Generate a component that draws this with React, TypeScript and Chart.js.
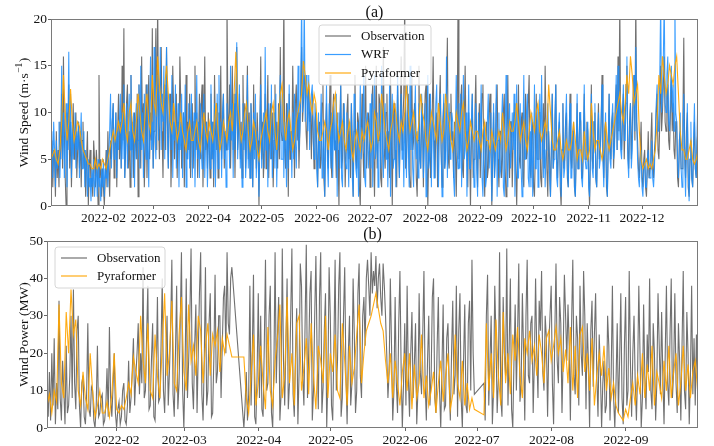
import React, { useEffect, useRef } from "react";
import { Chart, registerables } from "chart.js";

Chart.register(...registerables);

const FONT = "'Liberation Serif', 'Times New Roman', serif";

// ---------- (a) Wind speed (x = day of year 2022) ----------
const TOP_START = 2.5;
const TOP_MONTH_DAYS = [32, 60, 91, 121, 152, 182, 213, 244, 274, 305, 335];
const TOP_TICK_LABELS = ["2022-02", "2022-03", "2022-04", "2022-05", "2022-06", "2022-07", "2022-08", "2022-09", "2022-10", "2022-11", "2022-12"];

// two samples per day
const speedObservation = [
  4, 7, 2, 6, 5, 1, 8, 3, 6, 2, 9, 5, 12, 4, 16, 8, 3, 0, 10, 6,
  13, 4, 9, 2, 7, 11, 5, 8, 10, 3, 6, 9, 4, 8, 2, 7, 9, 4, 6, 1,
  5, 8, 0, 4, 6, 2, 3, 1, 7, 5, 2, 6, 4, 0, 14, 3, 5, 1, 4, 2,
  0, 3, 6, 2, 8, 4, 1, 7, 5, 9, 11, 3, 6, 10, 2, 8, 12, 5, 9, 4,
  15, 7, 19, 3, 6, 11, 13, 4, 8, 2, 14, 6, 9, 3, 10, 7, 5, 12, 1, 13,
  8, 4, 16, 7, 11, 2, 6, 13, 3, 9, 14, 5, 10, 7, 19, 4, 8, 12, 19, 6,
  22, 9, 5, 12, 17, 8, 3, 11, 13, 6, 17, 9, 4, 10, 12, 2, 7, 15, 10, 5,
  8, 12, 3, 9, 6, 16, 11, 4, 7, 10, 2, 8, 14, 5, 9, 6, 12, 3, 8, 11,
  4, 9, 15, 6, 10, 3, 7, 12, 5, 11, 13, 2, 8, 16, 6, 9, 4, 10, 7, 3,
  12, 5, 9, 2, 14, 8, 6, 11, 3, 10, 7, 15, 5, 9, 12, 4, 8, 6, 22, 10,
  7, 13, 4, 9, 15, 6, 11, 3, 10, 17, 6, 8, 12, 5, 9, 3, 14, 7, 11, 4,
  9, 15, 5, 10, 3, 11, 8, 2, 13, 6, 9, 4, 10, 7, 0, 8, 16, 5, 9, 3,
  6, 12, 4, 9, 14, 3, 8, 11, 5, 10, 2, 7, 13, 6, 9, 4, 11, 5, 17, 8,
  7, 10, 22, 6, 4, 11, 9, 1, 12, 5, 8, 6, 15, 9, 3, 11, 13, 7, 10, 4,
  8, 12, 17, 9, 11, 14, 13, 8, 6, 12, 13, 9, 10, 5, 12, 8, 4, 9, 10, 6,
  2, 7, 9, 4, 5, 11, 13, 3, 1, 8, 11, 6, 4, 9, 14, 5, 3, 10, 12, 6,
  7, 3, 10, 6, 0, 9, 13, 4, 5, 11, 9, 2, 6, 10, 12, 5, 8, 3, 11, 7,
  1, 8, 14, 5, 4, 10, 9, 2, 0, 7, 12, 6, 3, 9, 15, 4, 7, 10, 9, 2,
  5, 11, 13, 6, 1, 8, 15, 4, 7, 12, 11, 3, 2, 9, 17, 6, 4, 10, 12, 5,
  8, 3, 14, 7, 0, 10, 11, 5, 6, 2, 13, 8, 3, 9, 16, 6, 9, 12, 22, 4,
  5, 10, 12, 4, 2, 8, 14, 6, 7, 11, 10, 3, 1, 7, 15, 5, 4, 9, 11, 2,
  8, 12, 13, 5, 0, 6, 12, 3, 5, 10, 16, 7, 3, 8, 10, 2, 7, 11, 14, 6,
  2, 9, 11, 4, 6, 12, 18, 5, 4, 10, 12, 7, 8, 3, 9, 6, 1, 8, 22, 5,
  6, 11, 13, 4, 3, 9, 15, 7, 8, 2, 10, 6, 0, 7, 12, 3, 5, 10, 14, 6,
  2, 8, 11, 3, 7, 12, 13, 5, 1, 6, 9, 3, 4, 10, 12, 6, 0, 5, 10, 3,
  6, 11, 13, 5, 2, 8, 8, 3, 5, 10, 12, 4, 1, 7, 14, 6, 3, 9, 9, 2,
  7, 10, 11, 4, 0, 6, 13, 5, 4, 9, 10, 3, 2, 8, 12, 5, 6, 11, 14, 4,
  3, 8, 9, 2, 1, 6, 12, 5, 5, 10, 10, 3, 2, 7, 11, 4, 15, 8, 4, 1,
  8, 5, 1, 6, 12, 4, 6, 9, 13, 5, 3, 7, 9, 2, 0, 6, 11, 4, 5, 9,
  10, 3, 2, 7, 12, 5, 4, 8, 8, 2, 1, 6, 11, 4, 6, 10, 9, 3, 3, 7,
  12, 5, 5, 9, 8, 3, 0, 6, 13, 5, 4, 9, 10, 3, 2, 7, 11, 5, 6, 9,
  14, 6, 3, 8, 9, 2, 1, 7, 12, 6, 5, 9, 10, 4, 7, 11, 13, 6, 16, 8,
  22, 7, 6, 10, 12, 5, 9, 13, 15, 6, 4, 9, 11, 5, 8, 12, 14, 7, 22, 9,
  7, 4, 3, 6, 9, 3, 2, 5, 6, 2, 1, 4, 8, 3, 4, 7, 10, 4, 3, 6,
  7, 10, 12, 6, 5, 9, 15, 8, 10, 13, 16, 9, 8, 12, 13, 7, 6, 10, 14, 8,
  11, 6, 5, 9, 9, 3, 2, 7, 8, 4, 4, 9, 18, 6, 3, 8, 10, 2, 1, 5,
  7, 3, 2, 6, 9, 4, 3, 7, 8, 2,
];

// two samples per day
const speedWRF = [
  5, 8, 3, 9, 6, 2, 7, 4, 5, 9, 3, 7, 15, 5, 10, 3, 6, 11, 2, 8,
  16.5, 6, 12, 3, 9, 5, 7, 10, 4, 8, 6, 9, 3, 7, 10, 4, 5, 8, 2, 6,
  4, 1, 5, 2, 3, 0.5, 4, 2, 5, 1, 3, 4, 1, 5, 2, 3, 0.5, 4, 2, 5,
  1, 4, 3, 6, 2, 5, 8, 12, 4, 9, 11, 5, 7, 10, 3, 8, 6, 9, 12, 4,
  10, 5, 13, 3, 7, 11, 4, 9, 12, 6, 14, 3, 8, 10, 2, 9, 11, 5, 7, 13,
  4, 15, 6, 10, 3, 12, 8, 5, 13, 7, 2, 10, 16, 6, 9, 4, 17, 8, 5, 11,
  14, 7, 10, 17, 6, 12, 9, 15, 5, 11, 17, 8, 4, 12, 10, 6, 14, 3, 9, 7,
  13, 4, 8, 11, 2, 9, 6, 12, 3, 10, 7, 13, 2, 8, 5, 11, 4, 9, 12, 3,
  7, 10, 2, 8, 14, 5, 9, 3, 11, 6, 4, 10, 12, 3, 7, 9, 2, 6, 8, 4,
  13, 5, 9, 3, 11, 2, 7, 12, 4, 14, 6, 9, 3, 10, 12, 5, 8, 2, 11, 6,
  9, 4, 15, 7, 11, 3, 12, 6, 10, 17.5, 5, 9, 13, 4, 8, 2, 11, 6, 10, 3,
  6, 14, 4, 9, 3, 11, 7, 2, 10, 5, 12, 3, 8, 6, 1, 9, 13, 4, 7, 10,
  4, 17, 6, 9, 2, 11, 8, 5, 13, 3, 7, 10, 4, 12, 2, 8, 6, 11, 14, 5,
  5, 12, 3, 9, 7, 2, 11, 4, 13, 6, 8, 3, 10, 5, 12, 7, 4, 9, 15, 6,
  8, 13, 22, 10, 12, 22, 9, 14, 11, 8, 14, 6, 10, 12, 13, 7, 5, 11, 9, 4,
  2, 10, 4, 8, 12, 3, 6, 9, 1, 7, 13, 5, 2, 11, 8, 4, 10, 3, 11, 6,
  6, 12, 1, 8, 10, 4, 13, 3, 2, 9, 11, 5, 4, 10, 7, 2, 9, 5, 11, 3,
  1, 12, 8, 4, 3, 9, 1, 6, 13, 5, 7, 10, 14, 3, 2, 9, 10, 4, 6, 11,
  4, 12, 2, 8, 14, 5, 6, 10, 2, 7, 11, 4, 15, 6, 3, 9, 11, 5, 8, 2,
  7, 13, 1, 9, 12, 4, 5, 10, 2, 8, 14, 6, 3, 9, 12, 5, 8, 2, 10, 6,
  3, 13, 7, 2, 15, 6, 10, 4, 2, 9, 13, 5, 8, 3, 11, 6, 4, 12, 9, 3,
  7, 11, 1, 8, 14, 4, 5, 12, 2, 9, 10, 3, 6, 11, 13, 5, 2, 8, 12, 6,
  1, 9, 12, 4, 5, 16, 3, 8, 11, 5, 7, 10, 9, 3, 1, 8, 14, 6, 4, 11,
  4, 12, 2, 8, 14, 5, 6, 10, 1, 7, 13, 4, 4, 9, 12, 6, 2, 8, 11, 4,
  1, 10, 5, 8, 13, 3, 1, 7, 9, 2, 3, 9, 12, 4, 6, 10, 0.5, 6, 11, 3,
  5, 13, 1, 7, 10, 3, 4, 9, 12, 2, 1, 8, 14, 5, 2, 9, 11, 4, 6, 10,
  6, 12, 1, 8, 13, 3, 3, 9, 11, 4, 1, 7, 14, 5, 5, 10, 12, 3, 2, 8,
  2, 10, 1, 6, 13, 4, 4, 11, 2, 8, 12, 5, 14, 7, 3, 9, 2, 6, 7, 11,
  7, 3, 1, 6, 12, 4, 5, 9, 13, 3, 2, 8, 10, 4, 1, 6, 11, 3, 4, 9,
  12, 4, 2, 8, 11, 3, 3, 7, 9, 2, 1, 6, 12, 4, 5, 10, 10, 3, 2, 6,
  13, 5, 4, 8, 9, 2, 1, 6, 12, 4, 3, 9, 11, 3, 2, 7, 10, 4, 5, 9,
  13, 5, 2, 7, 10, 3, 1, 6, 12, 5, 4, 9, 11, 5, 6, 10, 14, 6, 15, 7,
  12, 6, 5, 9, 13, 7, 7, 11, 16, 5, 3, 8, 11, 4, 6, 10, 14, 8, 17, 9,
  5, 3, 2, 5, 6, 2, 1, 4, 5, 2, 2, 5, 6, 3, 3, 5, 7, 3, 2, 4,
  8, 11, 13, 8, 9, 14, 22, 10, 12, 16, 22, 11, 10, 14, 16, 9, 8, 12, 15, 10,
  13, 8, 22, 10, 9, 5, 3, 6, 10, 4, 2, 7, 12, 5, 1, 6, 11, 4, 0.5, 5,
  9, 3, 2, 7, 11, 4, 3, 8, 12, 5,
];

// one sample per day
const speedPyraformer = [
  5, 5.5, 6, 5, 4.5, 6, 9, 14, 10, 7, 9, 12.5, 9, 7, 8, 9, 8.5, 7, 6, 5.5,
  5, 4.5, 4.5, 4, 4, 5, 4, 4.5, 4, 5, 4.5, 4, 5, 6, 7, 8, 7, 8, 9, 8,
  9, 11, 8, 7, 10, 11, 8, 7, 9, 12, 10, 8, 7, 10, 12, 9, 8, 14, 11, 10,
  16, 13, 11, 10, 13, 15, 12, 9, 8, 11, 9, 7, 8, 10, 8, 7, 6, 8, 9, 7,
  7, 8, 9, 7, 6, 8, 10, 8, 7, 9, 8, 7, 9, 11, 8, 6, 7, 9, 8, 7,
  9, 10, 8, 12, 16.5, 11, 9, 7, 8, 10, 11, 8, 6, 7, 9, 8, 6, 5, 7, 8,
  9, 10, 8, 7, 10, 11, 8, 6, 9, 12, 13, 9, 7, 9, 10, 8, 6, 7, 9, 10,
  11, 12, 15.5, 14, 12, 13, 11, 10, 12, 11, 8, 7, 7, 8, 9, 8, 6, 8, 9, 11,
  12, 9, 7, 8, 9, 7, 6, 8, 9, 6, 5, 7, 8, 7, 6, 8, 7, 8, 9, 8,
  6, 7, 10, 9, 7, 8, 12, 10, 8, 7, 6, 8, 9, 11, 10, 8, 7, 9, 8, 10,
  13, 10, 8, 9, 10, 8, 7, 9, 12, 10, 9, 7, 6, 8, 10, 9, 8, 7, 11, 9,
  7, 8, 12, 10, 9, 7, 6, 8, 10, 9, 8, 10, 11, 8, 6, 7, 9, 8, 7, 8,
  8, 7, 6, 8, 9, 7, 7, 6, 8, 7, 6, 7, 8, 7, 10, 8, 6, 7, 9, 8,
  8, 9, 11, 9, 7, 8, 9, 7, 6, 8, 10, 9, 8, 10, 11, 8, 7, 8, 9, 8,
  13, 10, 7, 6, 6, 7, 8, 6, 5, 6, 7, 6, 6, 7, 9, 7, 5, 6, 6, 5,
  8, 6, 5, 6, 11, 8, 6, 7, 7, 6, 5, 6, 9, 7, 6, 7, 8, 9, 10, 11,
  12, 10, 9, 11, 14, 12, 16, 14, 11, 12, 13, 8, 5, 4, 4.5, 5, 4, 4.5, 4, 5,
  6, 9, 14, 12, 16, 14, 12, 13, 15, 14, 13, 15, 16, 12, 8, 6, 6, 5, 5, 6,
  7, 5, 4.5, 5, 6,
];

// ---------- (b) Wind power (x = day of year 2022) ----------
const BOTTOM_START = 2.85;
const BOTTOM_MONTH_DAYS = [32, 60, 91, 121, 152, 182, 213, 244];
const BOTTOM_TICK_LABELS = ["2022-02", "2022-03", "2022-04", "2022-05", "2022-06", "2022-07", "2022-08", "2022-09"];

// two samples per day, null = missing record
const powerObservation = [
  8, 3, 15, 2, 20, 6, 24, 1, 12, 5, 34, 8, 2, 18, 10, 1, 22, 4, 6, 14,
  30, 8, 37, 12, 5, 26, 30, 6, 0, 12, 14, 3, 1, 9, 28, 5, 3, 11, 10, 2,
  0, 6, 22, 3, 4, 8, 9, 1, 2, 6, 16, 3, 27, 8, 3, 11, 20, 4, 0, 5,
  7, 1, 3, 10, 12, 2, 1, 6, 18, 4, 8, 15, 24, 6, 14, 20, 28, 9, 20, 12,
  43, 8, 10, 25, 38, 5, 6, 18, 28, 3, 2, 15, 35, 7, 8, 22, 40, 10, 4, 18,
  30, 6, 15, 27, 45, 9, 3, 20, 38, 5, 12, 28, 47, 10, 0, 16, 40, 8, 18, 30,
  48, 12, 5, 22, 33, 4, 20, 36, 47, 9, 2, 18, 43, 6, 10, 28, 36, 3, 4, 19,
  41, 12, 15, 30, 30, 8, 22, 35, 38, 20, 47, 28, 25, 40, 43, null, null, null, null, null,
  null, null, null, null, 0, 6, 15, 2, 9, 38, 6, 20, 41, 3, 1, 14, 36, 8, 30, 5,
  3, 22, 45, 10, 12, 30, 38, 4, 0, 16, 47, 12, 25, 35, 2, 9, 48, 18, 6, 22,
  40, 5, 12, 30, 48, 9, 3, 20, 32, 1, 15, 44, 38, 14, 6, 28, 49, 8, 20, 36,
  42, 2, 10, 30, 46, 20, 5, 35, 47, 4, 11, 26, 36, 0, 14, 43, 30, 6, 2, 22,
  45, 10, 18, 38, 47, 3, 8, 30, 43, 15, 1, 20, 30, 6, 12, 40, 25, 4, 10, 36,
  44, 14, 8, 30, 35, 22, 40, 45, 38, 30, 47, 36, 42, 38, 46, 32, 40, 44, 35, 30,
  44, 38, 30, 20, 8, 15, 40, 22, 2, 10, 35, 12, 4, 28, 42, 16, 0, 12, 28, 6,
  38, 14, 3, 20, 31, 8, 17, 28, 1, 10, 36, 15, 9, 25, 42, 12, 2, 18, 30, 6,
  14, 35, 40, 8, 4, 22, 35, 10, 0, 16, 33, 5, 6, 24, 28, 12, 2, 20, 34, 9,
  14, 38, 3, 26, 36, 8, 0, 18, 33, 6, 4, 28, 34, 10, 45, 20, 9, null, null, null,
  null, null, null, null, 12, 2, 30, 41, 6, 18, 30, 1, 10, 38, 24, 4, 13, 47, 8, 3,
  35, 20, 14, 48, 6, 22, 40, 5, 0, 18, 33, 10, 25, 44, 7, 12, 36, 20, 2, 30,
  45, 14, 12, 28, 30, 4, 18, 40, 20, 8, 34, 26, 42, 15, 10, 30, 24, 3, 22, 30,
  38, 12, 1, 25, 44, 18, 12, 35, 28, 4, 20, 41, 30, 18, 33, 22, 2, 28, 45, 14,
  9, 30, 24, 6, 38, 20, 14, 42, 30, 5, 28, 18, 0, 26, 34, 11, 25, 36, 14, 3,
  25, 15, 0, 12, 18, 4, 6, 30, 22, 2, 15, 38, 8, 0, 12, 28, 4, 18, 36, 8,
  1, 22, 35, 6, 10, 42, 18, 3, 20, 30, 12, 2, 15, 38, 20, 0, 8, 33, 14, 5,
  25, 15, 40, 10, 5, 28, 20, 2, 12, 36, 22, 9, 31, 14, 1, 20, 38, 12, 6, 25,
  40, 8, 15, 36, 12, 4, 28, 18, 2, 22, 42, 10, 5, 31, 20, 1, 14, 38, 9, 24,
  6, 25, 12, 4,
];

// one sample per day, null = missing forecast
const powerPyraformer = [
  6, 9, 4, 10, 7, 33, 12, 8, 31, 20,
  37, 25, 29, 10, 6, 15, 8, 5, 20, 10,
  3, 6, 10, 4, 4, 7, 3, 9, 20, 5,
  4, 6, 5, 8, 12, 9, 19, 15, 12, 30,
  18, 12, 28, 10, 8, 25, 14, 8, 22, 36,
  14, 20, 34, 12, 10, 25, 35, 15, 10, 33,
  18, 22, 14, 30, 26, 12, 22, 28, 14, 25,
  22, 26, 15, 24, 20, 25, 22, 19, 19, 19,
  19, 19, 19, 8, 4, 14, 25, 6, 12, 22,
  12, 5, 27, 10, 6, 18, 24, 33, 8, 14,
  35, 12, 20, 6, 28, 30, 10, 16, 24, 9,
  28, 14, 5, 22, 18, 12, 30, 8, 20, 15,
  25, 10, 8, 28, 18, 6, 22, 12, 16, 25,
  33, 12, 20, 26, 28, 30, 33, 36, 32, 28,
  26, 18, 12, 20, 8, 18, 12, 6, 15, 20,
  10, 20, 5, 17, 8, 12, 25, 8, 14, 6,
  10, 15, 4, 12, 18, 7, 14, 20, 5, 9,
  25, 12, 8, 18, 6, 12, 5, 8, 5, null,
  null, null, 3.5, 28, 10, 20, 8, 29, 14, 6,
  31, 12, 20, 9, 25, 18, 27, 14, 8, 24,
  20, 26, 18, 22, 14, 25, 20, 12, 24, 26,
  18, 22, 27, 20, 24, 15, 21, 12, 27, 10,
  22, 8, 25, 27, 15, 20, 10, 24, 6, 14,
  20, 14, 22, 10, 16, 8, 12, 6, 4, 3,
  2, 5, 3, 8, 12, 6, 14, 9, 20, 8,
  17, 10, 22, 6, 15, 12, 8, 18, 10, 22,
  8, 15, 20, 6, 12, 22, 10, 17, 8, 15,
  18, 10,
];

const COLOR_OBS = "rgba(80,80,80,0.82)";
const COLOR_WRF = "rgba(30,144,255,0.88)";
const COLOR_PYRA = "rgba(255,165,0,0.92)";

type LegendItem = { label: string; color: string };
type DecorCfg = {
  title: string;
  yMain: string;
  ySup: string;
  yEnd: string;
  legend: LegendItem[];
  box: { x: number; y: number; w: number; h: number; rows: number[] };
};

function toPoints(values: (number | null)[], start: number, step: number) {
  return values.map((v, i) => ({ x: start + i * step, y: v }));
}

function lineDataset(label: string, values: (number | null)[], start: number, step: number, color: string, width: number) {
  return {
    label,
    data: toPoints(values, start, step),
    borderColor: color,
    borderWidth: width,
    pointRadius: 0,
    tension: 0,
    spanGaps: true,
    fill: false,
  };
}

function decorPlugin(cfg: DecorCfg) {
  return {
    id: "decor",
    afterDraw(chart: any) {
      const { ctx, chartArea: a } = chart;
      ctx.save();
      ctx.strokeStyle = "#7a7a7a";
      ctx.lineWidth = 1;
      ctx.strokeRect(Math.round(a.left) + 0.5, Math.round(a.top) + 0.5, Math.round(a.width) - 1, Math.round(a.height) - 1);

      ctx.fillStyle = "#111";
      ctx.font = `16px ${FONT}`;
      ctx.textAlign = "center";
      ctx.textBaseline = "middle";
      ctx.fillText(cfg.title, (a.left + a.right) / 2, a.top - 6.5);

      ctx.save();
      ctx.translate(24, (a.top + a.bottom) / 2);
      ctx.rotate(-Math.PI / 2);
      ctx.textAlign = "left";
      ctx.textBaseline = "middle";
      const mainFont = `13.5px ${FONT}`;
      const supFont = `9.5px ${FONT}`;
      ctx.font = mainFont;
      const wMain = ctx.measureText(cfg.yMain).width;
      const wEnd = ctx.measureText(cfg.yEnd).width;
      ctx.font = supFont;
      const wSup = cfg.ySup ? ctx.measureText(cfg.ySup).width + 1 : 0;
      let x0 = -(wMain + wSup + wEnd) / 2;
      ctx.font = mainFont;
      ctx.fillText(cfg.yMain, x0, 0);
      x0 += wMain;
      if (cfg.ySup) {
        ctx.font = supFont;
        ctx.fillText(cfg.ySup, x0 + 0.5, -5);
        x0 += wSup;
      }
      ctx.font = mainFont;
      ctx.fillText(cfg.yEnd, x0, 0);
      ctx.restore();

      const b = cfg.box;
      const bx = a.left + b.x;
      const by = a.top + b.y;
      const r = 3;
      ctx.beginPath();
      ctx.moveTo(bx + r, by);
      ctx.lineTo(bx + b.w - r, by);
      ctx.quadraticCurveTo(bx + b.w, by, bx + b.w, by + r);
      ctx.lineTo(bx + b.w, by + b.h - r);
      ctx.quadraticCurveTo(bx + b.w, by + b.h, bx + b.w - r, by + b.h);
      ctx.lineTo(bx + r, by + b.h);
      ctx.quadraticCurveTo(bx, by + b.h, bx, by + b.h - r);
      ctx.lineTo(bx, by + r);
      ctx.quadraticCurveTo(bx, by, bx + r, by);
      ctx.closePath();
      ctx.fillStyle = "rgba(255,255,255,0.8)";
      ctx.fill();
      ctx.strokeStyle = "#d6d6d6";
      ctx.lineWidth = 1;
      ctx.stroke();

      ctx.font = `13px ${FONT}`;
      ctx.textAlign = "left";
      ctx.textBaseline = "middle";
      cfg.legend.forEach((item, i) => {
        const yy = by + b.rows[i];
        ctx.strokeStyle = item.color;
        ctx.lineWidth = 1.2;
        ctx.beginPath();
        ctx.moveTo(bx + 6, yy);
        ctx.lineTo(bx + 32, yy);
        ctx.stroke();
        ctx.fillStyle = "#111";
        ctx.fillText(item.label, bx + 42, yy + 0.5);
      });
      ctx.restore();
    },
  };
}

function baseOptions(opts: {
  xMin: number;
  xMax: number;
  monthDays: number[];
  tickLabels: string[];
  xHeight: number;
  yMax: number;
  yStep: number;
  yWidth: number;
}) {
  const tickFont = { family: FONT, size: 13.5 };
  return {
    animation: false as const,
    responsive: false,
    events: [] as any[],
    layout: { padding: { top: 19, right: 16, left: 0, bottom: 0 } },
    plugins: {
      legend: { display: false },
      title: { display: false },
      tooltip: { enabled: false },
    },
    scales: {
      x: {
        type: "linear" as const,
        min: opts.xMin,
        max: opts.xMax,
        afterBuildTicks: (s: any) => {
          s.ticks = opts.monthDays.map((v) => ({ value: v }));
        },
        afterFit: (s: any) => {
          s.height = opts.xHeight;
        },
        grid: { display: true, drawOnChartArea: false, drawTicks: true, tickLength: 3, color: "#666" },
        border: { display: false },
        ticks: {
          autoSkip: false,
          maxRotation: 0,
          minRotation: 0,
          padding: 1,
          color: "#151515",
          font: tickFont,
          callback: (_v: any, i: number) => opts.tickLabels[i],
        },
      },
      y: {
        type: "linear" as const,
        min: 0,
        max: opts.yMax,
        afterFit: (s: any) => {
          s.width = opts.yWidth;
        },
        grid: { display: true, drawOnChartArea: false, drawTicks: true, tickLength: 3, color: "#666" },
        border: { display: false },
        ticks: { stepSize: opts.yStep, padding: 1, color: "#151515", font: tickFont },
      },
    },
  };
}

export default function App() {
  const topRef = useRef<HTMLCanvasElement | null>(null);
  const bottomRef = useRef<HTMLCanvasElement | null>(null);

  useEffect(() => {
    if (!topRef.current || !bottomRef.current) return;

    const top = new Chart(topRef.current, {
      type: "line",
      data: {
        datasets: [
          lineDataset("Pyraformer", speedPyraformer, TOP_START, 1, COLOR_PYRA, 1.1),
          lineDataset("WRF", speedWRF, TOP_START, 0.5, COLOR_WRF, 1.05),
          lineDataset("Observation", speedObservation, TOP_START, 0.5, COLOR_OBS, 1.1),
        ],
      },
      options: baseOptions({
        xMin: 2.5,
        xMax: 366.5,
        monthDays: TOP_MONTH_DAYS,
        tickLabels: TOP_TICK_LABELS,
        xHeight: 16,
        yMax: 20,
        yStep: 5,
        yWidth: 51,
      }) as any,
      plugins: [
        decorPlugin({
          title: "(a)",
          yMain: "Wind Speed (m·s",
          ySup: "−1",
          yEnd: ")",
          legend: [
            { label: "Observation", color: COLOR_OBS },
            { label: "WRF", color: COLOR_WRF },
            { label: "Pyraformer", color: COLOR_PYRA },
          ],
          box: { x: 268, y: 6, w: 112, h: 60, rows: [11, 29.5, 48] },
        }),
      ],
    });

    const bottom = new Chart(bottomRef.current, {
      type: "line",
      data: {
        datasets: [
          lineDataset("Pyraformer", powerPyraformer, BOTTOM_START, 1, COLOR_PYRA, 1.1),
          lineDataset("Observation", powerObservation, BOTTOM_START, 0.5, COLOR_OBS, 1.1),
        ],
      },
      options: baseOptions({
        xMin: 2.85,
        xMax: 274,
        monthDays: BOTTOM_MONTH_DAYS,
        tickLabels: BOTTOM_TICK_LABELS,
        xHeight: 18,
        yMax: 50,
        yStep: 10,
        yWidth: 47,
      }) as any,
      plugins: [
        decorPlugin({
          title: "(b)",
          yMain: "Wind Power (MW)",
          ySup: "",
          yEnd: "",
          legend: [
            { label: "Observation", color: COLOR_OBS },
            { label: "Pyraformer", color: COLOR_PYRA },
          ],
          box: { x: 8, y: 6, w: 110, h: 41, rows: [11, 29] },
        }),
      ],
    });

    return () => {
      top.destroy();
      bottom.destroy();
    };
  }, []);

  return (
    <div style={{ position: "absolute", left: 0, top: 0, width: 714, height: 446, background: "#fff" }}>
      <canvas ref={topRef} width={714} height={222} style={{ display: "block", width: 714, height: 222 }} />
      <canvas ref={bottomRef} width={714} height={224} style={{ display: "block", width: 714, height: 224 }} />
    </div>
  );
}
